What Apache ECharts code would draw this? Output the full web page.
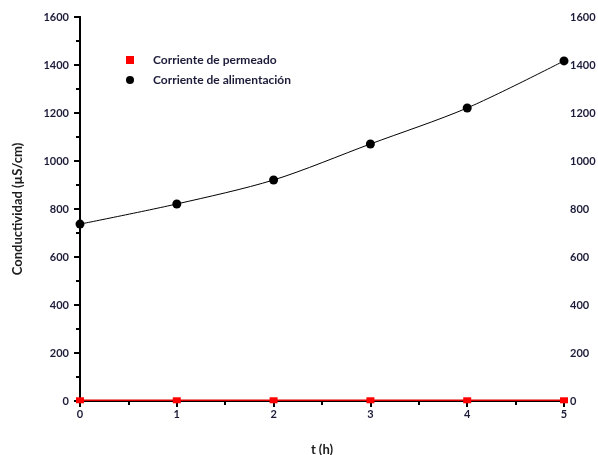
<!DOCTYPE html>
<html>
<head>
<meta charset="utf-8">
<script src="https://cdn.jsdelivr.net/npm/echarts@6/dist/echarts.min.js"></script>
<style>
  html, body { margin: 0; padding: 0; background: #fff; }
  #chart { width: 598px; height: 455px; }
</style>
</head>
<body>
<div id="chart"></div>
<script>
// Conductivity of the permeate and feed streams over time
const hours = [0, 1, 2, 3, 4, 5];
const permeado = [3, 3, 3, 3, 3, 3];
const alimentacion = [737, 821, 921, 1071, 1221, 1417];
const yTicks = [0, 200, 400, 600, 800, 1000, 1200, 1400, 1600];

const FONT = 'Lato, "Open Sans", sans-serif';
const labelStyle = {
  fontFamily: FONT, fontWeight: 'bold', fontSize: 11, color: '#1c1c3a',
  formatter: v => String(v)
};

const chart = echarts.init(document.getElementById('chart'), null, { renderer: 'canvas' });

const yMin = yTicks[0], yMax = yTicks[yTicks.length - 1], yStep = yTicks[1] - yTicks[0];

chart.setOption({
  animation: false,
  backgroundColor: '#fff',
  grid: { left: 80, right: 34, top: 17, bottom: 54, containLabel: false, outerBoundsMode: 'none' },
  legend: {
    orient: 'vertical',
    left: 121,
    top: 49,
    itemGap: 8,
    itemWidth: 8,
    itemHeight: 8,
    textStyle: { fontFamily: FONT, fontWeight: 'bold', fontSize: 12, color: '#1c1c3a', padding: [0, 0, 0, 14] },
    data: [
      { name: 'Corriente de permeado', icon: 'rect', itemStyle: { color: '#ff0000' } },
      { name: 'Corriente de alimentación', icon: 'circle', itemStyle: { color: '#000' } }
    ]
  },
  xAxis: [
    {
      type: 'value', min: hours[0], max: hours[hours.length - 1], interval: 1,
      position: 'bottom',
      name: 't (h)', nameLocation: 'middle', nameGap: 42,
      nameTextStyle: { fontFamily: FONT, fontWeight: 'bold', fontSize: 13, color: '#1c1c1c' },
      axisLine: { lineStyle: { color: '#000', width: 2 } },
      axisTick: { length: 6, lineStyle: { color: '#000', width: 2 } },
      minorTick: { show: true, splitNumber: 2, length: 4, lineStyle: { color: '#000', width: 2 } },
      axisLabel: Object.assign({}, labelStyle, { margin: 8 }),
      splitLine: { show: false }
    },
    {
      type: 'value', min: hours[0], max: hours[hours.length - 1], interval: 1,
      position: 'top',
      axisLine: { lineStyle: { color: '#000', width: 2 } },
      axisTick: { inside: true, length: 6, lineStyle: { color: '#000', width: 2 } },
      minorTick: { show: true, splitNumber: 2, length: 4, lineStyle: { color: '#000', width: 2 } },
      axisLabel: { show: false },
      splitLine: { show: false }
    }
  ],
  yAxis: [
    {
      type: 'value', min: yMin, max: yMax, interval: yStep,
      position: 'left',
      name: 'Conductividad (µS/cm)', nameLocation: 'middle', nameGap: 56, nameRotate: 90,
      nameTextStyle: { fontFamily: FONT, fontWeight: 'bold', fontSize: 13, color: '#1c1c1c' },
      axisLine: { lineStyle: { color: '#000', width: 2 } },
      axisTick: { length: 6, lineStyle: { color: '#000', width: 2 } },
      minorTick: { show: true, splitNumber: 2, length: 3, lineStyle: { color: '#000', width: 2 } },
      axisLabel: Object.assign({}, labelStyle, { margin: 11 }),
      splitLine: { show: false }
    },
    {
      type: 'value', min: yMin, max: yMax, interval: yStep,
      position: 'right',
      axisLine: { lineStyle: { color: '#000', width: 2 } },
      axisTick: { inside: true, length: 6, lineStyle: { color: '#000', width: 2 } },
      minorTick: { show: true, splitNumber: 2, length: 4, lineStyle: { color: '#000', width: 2 } },
      axisLabel: Object.assign({}, labelStyle, { margin: 6 }),
      splitLine: { show: false }
    }
  ],
  series: [
    {
      name: 'Corriente de alimentación',
      type: 'line',
      smooth: 0.3,
      data: hours.map((h, i) => [h, alimentacion[i]]),
      symbol: 'circle', symbolSize: 9,
      itemStyle: { color: '#000' },
      lineStyle: { color: '#000', width: 1 },
      z: 3
    },
    {
      name: 'Corriente de permeado',
      type: 'line',
      data: hours.map((h, i) => [h, permeado[i]]),
      symbol: 'rect', symbolSize: [8, 6],
      itemStyle: { color: '#ff0000' },
      lineStyle: { color: '#e00000', width: 1.5 },
      z: 4
    }
  ]
});
</script>
</body>
</html>
